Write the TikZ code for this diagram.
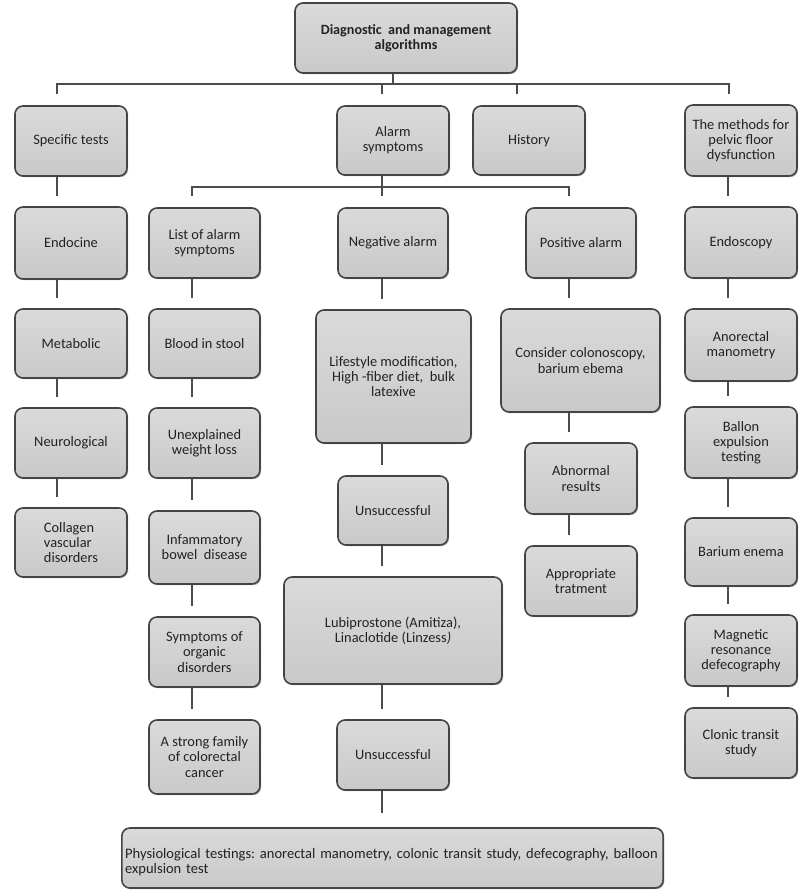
\documentclass[tikz,border=0pt]{standalone}
\usepackage{fontspec}
\setmainfont{Carlito}
\frenchspacing
\usetikzlibrary{shadows}
\definecolor{boxtop}{HTML}{DADADA}
\definecolor{boxbot}{HTML}{C9C9C9}
\definecolor{boxborder}{HTML}{444444}
\definecolor{linecol}{HTML}{4C4C4C}
\definecolor{textcol}{HTML}{222222}
\tikzset{
  box/.style={draw=boxborder, line width=1.2pt, top color=boxtop, bottom color=boxbot,
    rounded corners=6pt, align=center, text=textcol, inner sep=2pt,
    font=\fontsize{10.8}{11.4}\selectfont,
    drop shadow={shadow xshift=0.9pt, shadow yshift=-0.9pt, fill=black, opacity=0.3}},
  conn/.style={draw=linecol, line width=1.1pt},
  stub/.style={conn, shorten >=7.5pt}
}
\newcommand\bx[7][]{\node[box, #1, minimum width={(#5-#3)*0.75pt}, minimum height={(#6-#4)*0.75pt}] (#2) at ({(#3+#5)/2},{(#4+#6)/2}) {#7};}
\begin{document}
\begin{tikzpicture}[x=0.75pt, y=-0.75pt]
\useasboundingbox (0,0) rectangle (800,893);
% level 0/1
\bx[font=\fontsize{10.6}{11.3}\selectfont\bfseries]{top}{295}{3}{517}{73}{Diagnostic\ \ and management\\algorithms}
\bx{spec}{15}{106}{127}{176}{Specific tests}
\bx{alarm}{337}{106}{449}{175}{Alarm\\symptoms}
\bx{hist}{473}{106}{585}{175}{History}
\bx{pelv}{685}{105}{797}{176}{The methods for\\pelvic floor\\dysfunction}
% row 2
\bx{endo}{15}{207}{127}{279}{Endocine}
\bx{list}{149}{208}{260}{278}{List of alarm\\symptoms}
\bx{neg}{338}{208}{448}{278}{Negative alarm}
\bx{pos}{526}{208}{636}{278}{Positive alarm}
\bx{endos}{685}{207}{797}{278}{Endoscopy}
% row 3
\bx{meta}{15}{309}{127}{378}{Metabolic}
\bx{blood}{149}{309}{260}{378}{Blood in stool}
\bx{life}{316}{310}{471}{443}{Lifestyle modification,\\High -fiber diet,\ \ bulk\\latexive}
\bx{cons}{501}{309}{660}{412}{Consider colonoscopy,\\barium ebema}
\bx{anor}{685}{309}{797}{381}{Anorectal\\manometry}
% row 4
\bx{neur}{15}{408}{127}{478}{Neurological}
\bx{unexp}{149}{408}{260}{478}{Unexplained\\weight loss}
\bx{ballon}{685}{407}{797}{478}{Ballon\\expulsion\\testing}
\bx{abn}{525}{443}{637}{514}{Abnormal\\results}
\bx{uns1}{338}{476}{448}{545}{Unsuccessful}
% row 5
\bx[align=left]{coll}{15}{508}{127}{577}{Collagen\\vascular\\disorders}
\bx{infl}{149}{511}{260}{584}{Infammatory\\bowel\ \ disease}
\bx{barium}{685}{518}{797}{586}{Barium enema}
\bx{appr}{525}{546}{637}{616}{Appropriate\\tratment}
\bx{lubi}{284}{577}{502}{684}{Lubiprostone (Amitiza),\\Linaclotide (Linzess\textit{)}}
% row 6
\bx{symp}{149}{617}{260}{687}{Symptoms of\\organic\\disorders}
\bx{magn}{685}{615}{797}{686}{Magnetic\\resonance\\defecography}
\bx{uns2}{337}{720}{449}{790}{Unsuccessful}
\bx{strong}{149}{720}{260}{794}{A strong family\\of colorectal\\cancer}
\bx{clon}{685}{708}{797}{778}{Clonic transit\\study}
% bottom
\node[box, font=\fontsize{10.9}{11.6}\selectfont, align=left, text width=401pt, inner xsep=2.5pt, minimum height=45pt] (phys) at (392.5,858)
  {\rule{0pt}{14pt}\mbox{Physiological testings: anorectal manometry, colonic transit study, defecography, balloon}\\expulsion test};
% top bus
\coordinate (h1) at (393,84);
\coordinate (t1) at (57,94);
\coordinate (t2) at (382,94);
\coordinate (t3) at (517,94);
\coordinate (t4) at (729,94);
\draw[conn, line width=2pt] (top.south -| h1) -- (h1);
\draw[conn] (t1) |- (h1) -| (t4);
\draw[conn] (t2) -- (t2 |- h1);
\draw[conn] (t3) -- (t3 |- h1);
% alarm bus
\coordinate (h2) at (382,187);
\coordinate (u1) at (192,196);
\coordinate (u2) at (382,196);
\coordinate (u3) at (569,196);
\draw[conn, line width=1.6pt] (alarm.south -| h2) -- (h2);
\draw[conn] (u1) |- (h2) -| (u3);
\draw[conn] (u2) -- (h2);
% column stubs
\foreach \a/\b in {spec/endo, endo/meta, meta/neur, neur/coll}
  \draw[stub] (\a.south -| 57,0) -- (\b.north -| 57,0);
\foreach \a/\b in {list/blood, blood/unexp, unexp/infl, infl/symp, symp/strong}
  \draw[stub] (\a.south -| 192,0) -- (\b.north -| 192,0);
\foreach \a/\b in {neg/life, life/uns1, uns1/lubi, lubi/uns2}
  \draw[stub] (\a.south -| 382,0) -- (\b.north -| 382,0);
\draw[conn, shorten >=10.5pt] (uns2.south -| 382,0) -- (phys.north -| 382,0);
\foreach \a/\b in {pos/cons, cons/abn, abn/appr}
  \draw[stub] (\a.south -| 569,0) -- (\b.north -| 569,0);
\foreach \a/\b in {pelv/endos, endos/anor, anor/ballon, ballon/barium, barium/magn, magn/clon}
  \draw[stub] (\a.south -| 728,0) -- (\b.north -| 728,0);
\end{tikzpicture}
\end{document}
